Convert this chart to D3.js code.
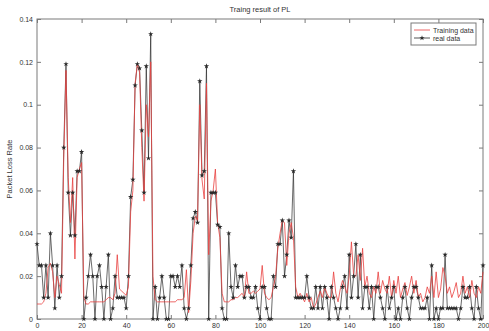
<!DOCTYPE html>
<html>
<head>
<meta charset="utf-8">
<script src="https://cdn.jsdelivr.net/npm/d3@7"></script>
<style>
  html, body { margin: 0; padding: 0; background: #fff; }
  svg { display: block; font-family: "Liberation Sans", Arial, sans-serif; }
</style>
</head>
<body>
<div id="chart"></div>
<script>
// ---- data (x = 0..200) ----
const realData = [
  0.035, 0.025, 0.025, 0.01, 0.025, 0.01, 0.04, 0.025, 0.005, 0.025,
  0.01, 0.02, 0.08, 0.119, 0.059, 0.039, 0.059, 0.039, 0.069, 0.069,
  0.078, 0, 0.01, 0.02, 0.03, 0.02, 0, 0.02, 0.025, 0.015,
  0, 0.015, 0.03, 0, 0.005, 0.02, 0.01, 0.01, 0.01, 0.01,
  0.005, 0.02, 0.057, 0.065, 0.109, 0.119, 0.117, 0.088, 0.059, 0.118,
  0.075, 0.133, 0, 0.015, 0, 0.01, 0.02, 0.01, 0, 0,
  0.02, 0.02, 0.015, 0.02, 0.015, 0.025, 0.005, 0, 0.005, 0.025,
  0.047, 0.05, 0.045, 0.111, 0.067, 0.069, 0.118, 0, 0.059, 0.059,
  0.059, 0.044, 0.043, 0.005, 0, 0, 0.04, 0.015, 0.01, 0.025,
  0.015, 0.02, 0.02, 0.01, 0.015, 0.015, 0.01, 0.01, 0.015, 0.005,
  0, 0.015, 0.015, 0.005, 0, 0, 0.02, 0.015, 0.035, 0.035,
  0.046, 0.02, 0.03, 0.046, 0.038, 0.069, 0.01, 0.01, 0.01, 0.01,
  0.01, 0.02, 0.01, 0.005, 0.005, 0.015, 0.005, 0.015, 0.005, 0.015,
  0.01, 0, 0.015, 0.01, 0.005, 0, 0.005, 0.015, 0.02, 0.005,
  0.03, 0.01, 0.02, 0.035, 0.01, 0.03, 0.005, 0.015, 0.015, 0.005,
  0.015, 0, 0.015, 0.015, 0.01, 0.005, 0, 0.015, 0.005, 0.01,
  0.015, 0, 0.005, 0, 0.01, 0.015, 0.005, 0, 0.01, 0.015,
  0.015, 0.01, 0.005, 0.005, 0.005, 0.01, 0, 0.025, 0, 0.005,
  0, 0.005, 0.005, 0.03, 0.005, 0.005, 0.005, 0.005, 0.005, 0,
  0.005, 0.015, 0.01, 0.01, 0.015, 0.005, 0, 0.015, 0.005, 0,
  0.025
];

const trainingData = [
  0.007, 0.007, 0.007, 0.008, 0.012, 0.024, 0.026, 0.022, 0.01, 0.02,
  0.016, 0.012, 0.075, 0.116, 0.066, 0.045, 0.066, 0.028, 0.066, 0.07,
  0.073, 0.01, 0.007, 0.007, 0.008, 0.008, 0.008, 0.008, 0.008, 0.008,
  0.008, 0.009, 0.01, 0.01, 0.009, 0.012, 0.03, 0.014, 0.013, 0.012,
  0.011, 0.015, 0.05, 0.06, 0.11, 0.119, 0.115, 0.08, 0.055, 0.1,
  0.085, 0.12, 0.02, 0.009, 0.008, 0.008, 0.008, 0.008, 0.008, 0.008,
  0.008, 0.008, 0.008, 0.009, 0.009, 0.009, 0.01, 0.023, 0.003, 0.018,
  0.04, 0.048, 0.046, 0.1, 0.065, 0.056, 0.11, 0.03, 0.055, 0.06,
  0.07, 0.045, 0.038, 0.012, 0.008, 0.008, 0.008, 0.009, 0.009, 0.01,
  0.01, 0.011, 0.012, 0.01, 0.022, 0.012, 0.012, 0.013, 0.012, 0.013,
  0.014, 0.025, 0.012, 0.01, 0.009, 0.01, 0.015, 0.02, 0.033, 0.04,
  0.046, 0.045, 0.025, 0.04, 0.045, 0.038, 0.015, 0.01, 0.012, 0.01,
  0.008, 0.012, 0.008, 0.01, 0.005, 0.007, 0.01, 0.013, 0.01, 0.015,
  0.012, 0.01, 0.01, 0.022, 0.012, 0.008, 0.014, 0.018, 0.015, 0.012,
  0.02, 0.036, 0.02, 0.02, 0.03, 0.018, 0.033, 0.015, 0.02, 0.012,
  0.01, 0.015, 0.012, 0.022, 0.012, 0.018, 0.014, 0.012, 0.02, 0.01,
  0.018, 0.012, 0.02, 0.01, 0.014, 0.017, 0.011, 0.015, 0.02, 0.012,
  0.018, 0.01, 0.012, 0.008, 0.01, 0.015, 0.012, 0.02, 0.01, 0.022,
  0.01, 0.014, 0.024, 0.02, 0.012, 0.015, 0.01, 0.013, 0.017, 0.01,
  0.012, 0.02, 0.012, 0.015, 0.01, 0.018, 0.012, 0.01, 0.015, 0.012,
  0.022
];

const xTicks = [0, 20, 40, 60, 80, 100, 120, 140, 160, 180, 200];
const yTicks = [0, 0.02, 0.04, 0.06, 0.08, 0.1, 0.12, 0.14];
const seriesNames = ["Training data", "real data"];

const COLOR = {
  training: "#e8403f",
  real: "#2a2a2a",
  axis: "#7a7a7a",
  text: "#333",
};

// ---- layout ----
const width = 489;
const height = 331;
const margin = { top: 19, right: 6, bottom: 12, left: 37 };
const plotW = width - margin.left - margin.right;
const plotH = height - margin.top - margin.bottom;

const x = d3.scaleLinear().domain([0, 200]).range([0, plotW]);
const y = d3.scaleLinear().domain([0, 0.14]).range([plotH, 0]);

const svg = d3.select("#chart")
  .append("svg")
  .attr("width", width)
  .attr("height", height);

const g = svg.append("g")
  .attr("transform", `translate(${margin.left},${margin.top})`);

// ---- axes (MATLAB style: ticks pointing in, on all four sides) ----
function styleAxis(sel) {
  sel.select(".domain").remove();
  sel.selectAll(".tick line").attr("stroke", COLOR.axis);
  sel.selectAll(".tick text")
    .attr("fill", COLOR.text)
    .attr("font-size", 7);
}

g.append("g")
  .attr("transform", `translate(0,${plotH})`)
  .call(d3.axisBottom(x).tickValues(xTicks).tickSizeInner(-4).tickSizeOuter(0).tickPadding(4))
  .call(styleAxis);

g.append("g")
  .call(d3.axisTop(x).tickValues(xTicks).tickSizeInner(-4).tickSizeOuter(0).tickFormat(""))
  .call(styleAxis);

g.append("g")
  .call(d3.axisLeft(y).tickValues(yTicks).tickSizeInner(-4).tickSizeOuter(0).tickPadding(4)
    .tickFormat((d) => (d === 0 ? "0" : d3.format("~g")(+d.toFixed(2)))))
  .call(styleAxis);

g.append("g")
  .attr("transform", `translate(${plotW},0)`)
  .call(d3.axisRight(y).tickValues(yTicks).tickSizeInner(-4).tickSizeOuter(0).tickFormat(""))
  .call(styleAxis);

g.append("rect")
  .attr("width", plotW)
  .attr("height", plotH)
  .attr("fill", "none")
  .attr("stroke", COLOR.axis)
  .attr("stroke-width", 1);

// ---- the two series ----
const line = d3.line()
  .x((d, i) => x(i))
  .y((d) => y(d));

g.append("path")
  .datum(realData)
  .attr("fill", "none")
  .attr("stroke", COLOR.real)
  .attr("stroke-width", 0.7)
  .attr("d", line);

g.append("path")
  .datum(trainingData)
  .attr("fill", "none")
  .attr("stroke", COLOR.training)
  .attr("stroke-width", 0.8)
  .attr("d", line);

const star = d3.symbol().type(d3.symbolStar).size(9);
g.append("g")
  .selectAll("path")
  .data(realData)
  .join("path")
  .attr("transform", (d, i) => `translate(${x(i)},${y(d)})`)
  .attr("d", star)
  .attr("fill", COLOR.real);

// ---- title + y label ----
svg.append("text")
  .attr("x", margin.left + plotW / 2)
  .attr("y", 12)
  .attr("text-anchor", "middle")
  .attr("font-size", 7.5)
  .attr("fill", COLOR.text)
  .text("Traing result of PL");

svg.append("text")
  .attr("transform", "rotate(-90)")
  .attr("x", -(margin.top + plotH / 2))
  .attr("y", 12)
  .attr("text-anchor", "middle")
  .attr("font-size", 7.5)
  .attr("fill", COLOR.text)
  .text("Packet Loss Rate");

// ---- legend ----
const legend = svg.append("g").attr("transform", "translate(411,23)");
legend.append("rect")
  .attr("width", 65)
  .attr("height", 22)
  .attr("fill", "#fff")
  .attr("stroke", COLOR.axis)
  .attr("stroke-width", 1);

seriesNames.forEach((name, i) => {
  const ly = 7 + i * 8;
  const c = i === 0 ? COLOR.training : COLOR.real;
  legend.append("line")
    .attr("x1", 3).attr("x2", 19)
    .attr("y1", ly).attr("y2", ly)
    .attr("stroke", c)
    .attr("stroke-width", 0.8);
  if (i === 1) {
    legend.append("path")
      .attr("transform", `translate(11,${ly})`)
      .attr("d", star)
      .attr("fill", c);
  }
  legend.append("text")
    .attr("x", 22)
    .attr("y", ly + 2.5)
    .attr("font-size", 7)
    .attr("fill", COLOR.text)
    .text(name);
});
</script>
</body>
</html>
